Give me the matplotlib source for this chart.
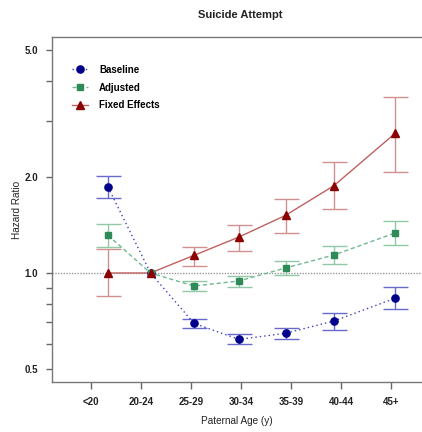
import matplotlib
matplotlib.use("Agg")
import matplotlib.pyplot as plt
from matplotlib.ticker import FixedLocator, NullFormatter

plt.rcParams['font.family'] = ['Liberation Sans', 'DejaVu Sans']

# paternal age groups and where each group's estimate sits on the x axis
age_groups = ['<20', '20-24', '25-29', '30-34', '35-39', '40-44', '45+']
x_pos = [0.34, 1.19, 2.06, 2.96, 3.89, 4.86, 6.08]

# hazard ratios with 95% CI
base_hr = [1.86, 1.0, 0.695, 0.619, 0.647, 0.707, 0.833]
base_lo = [1.715, 1.0, 0.671, 0.598, 0.619, 0.663, 0.771]
base_hi = [2.01, 1.0, 0.716, 0.642, 0.674, 0.749, 0.904]

adj_hr = [1.313, 1.0, 0.91, 0.944, 1.037, 1.139, 1.335]
adj_lo = [1.204, 1.0, 0.878, 0.902, 0.986, 1.065, 1.221]
adj_hi = [1.42, 1.0, 0.944, 0.979, 1.088, 1.215, 1.452]

fe_hr = [1.0, 1.0, 1.136, 1.297, 1.516, 1.88, 2.74]
fe_lo = [0.849, 1.0, 1.054, 1.175, 1.338, 1.584, 2.08]
fe_hi = [1.189, 1.0, 1.209, 1.418, 1.706, 2.23, 3.57]

fig = plt.figure(figsize=(4.22, 4.32), dpi=100)
ax = fig.add_axes([52/422, 1 - 382/432, 1 - 52/422, 345/432])

ax.axhline(1.0, color='#999999', lw=1, ls=(0, (1, 1)), zorder=1)

series = [
    ('Baseline', base_hr, base_lo, base_hi, 'o', '#00008B', '#4040c0', '#6a6acc', (0, (1, 2.2)), 5.2),
    ('Adjusted', adj_hr, adj_lo, adj_hi, 's', '#2E8B57', '#70b890', '#90c8a8', (0, (3, 2)), 4.6),
    ('Fixed Effects', fe_hr, fe_lo, fe_hi, '^', '#8B0000', '#c06060', '#d09090', '-', 5.4),
]

for name, hr, lo, hi, mk, mc, lc, ec, ls, ms in series:
    idx = [i for i in range(len(hr)) if i != 1]
    xs = [x_pos[i] for i in idx]
    ax.errorbar(xs, [hr[i] for i in idx],
                yerr=[[hr[i] - lo[i] for i in idx], [hi[i] - hr[i] for i in idx]],
                fmt='none', ecolor=ec, elinewidth=1, capsize=9, capthick=1, zorder=2)
    ax.plot(x_pos, hr, color=lc, lw=1, ls=ls, zorder=3)
    ax.plot(x_pos, hr, ls='none', marker=mk, color=mc, ms=ms, zorder=4)
    ax.plot([], [], color=lc, lw=1, ls=ls, marker=mk, mfc=mc, mec=mc, ms=ms, label=name)

ax.set_yscale('log')
ax.set_ylim(0.455, 5.5)
ax.set_xlim(-0.78, 6.62)

ax.yaxis.set_major_locator(FixedLocator([0.5, 1.0, 2.0, 5.0]))
ax.yaxis.set_minor_locator(FixedLocator([0.6, 0.7, 0.8, 0.9, 3.0, 4.0]))
ax.yaxis.set_minor_formatter(NullFormatter())
ax.set_yticklabels(['0.5', '1.0', '2.0', '5.0'], fontsize=7, fontweight='bold')
ax.set_xticks(range(len(age_groups)))
ax.set_xticklabels(age_groups, fontsize=7, fontweight='bold')

ax.tick_params(axis='both', which='both', color='#666666', length=4, width=1, labelcolor='#222222')
ax.tick_params(axis='x', length=5, pad=6)
ax.tick_params(axis='y', pad=6)

for s in ['left', 'bottom', 'top']:
    ax.spines[s].set_color('#777777')
    ax.spines[s].set_linewidth(1)
ax.spines['right'].set_visible(False)

ax.set_xlabel('Paternal Age (y)', fontsize=7.2, color='#222222', labelpad=6)
ax.set_ylabel('Hazard Ratio', fontsize=7.2, color='#222222', labelpad=2)
fig.text(0.57, 0.965, 'Suicide Attempt', ha='center', va='center',
         fontsize=8, fontweight='bold', color='#222222')

leg = ax.legend(loc='upper left', bbox_to_anchor=(0.03, 0.945), frameon=False,
                prop={'size': 7, 'weight': 'bold'}, handlelength=1.7,
                handletextpad=1.1, labelspacing=0.8)

fig.savefig('out.png', dpi=100)
